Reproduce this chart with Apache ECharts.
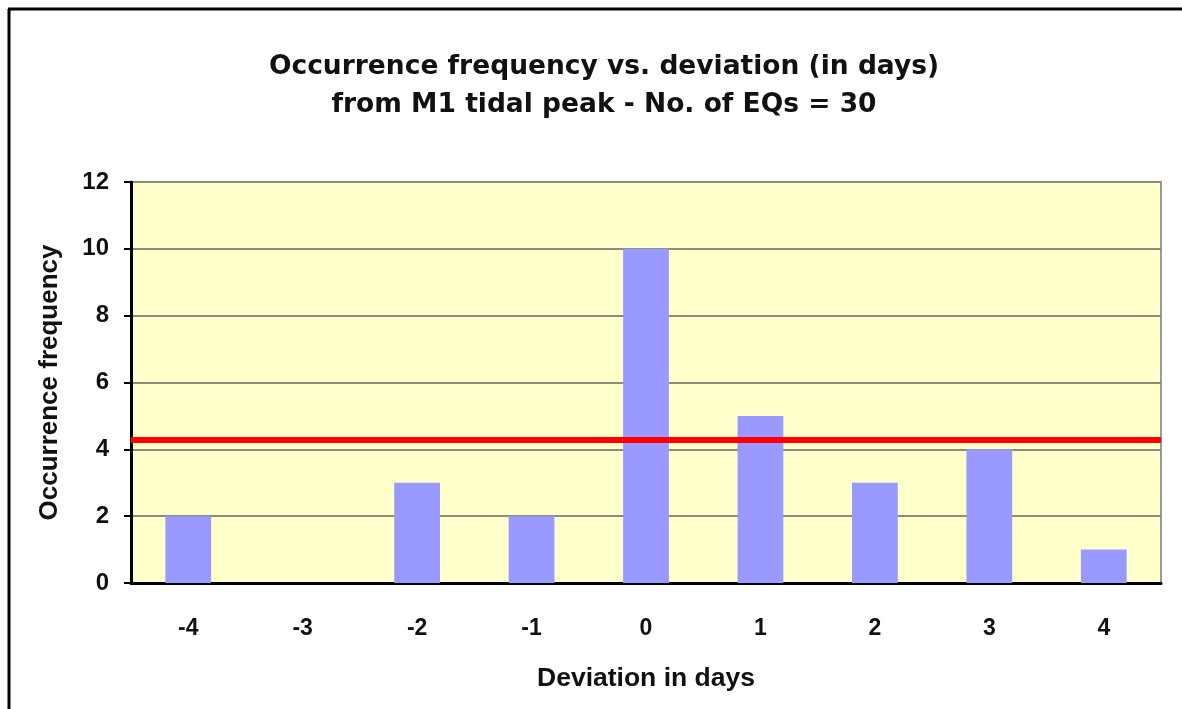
<!DOCTYPE html>
<html>
<head>
<meta charset="utf-8">
<script src="https://cdn.jsdelivr.net/npm/echarts@6/dist/echarts.min.js"></script>
<style>
  html, body { margin: 0; padding: 0; background: #fff; }
  #chart { width: 1182px; height: 709px; }
</style>
</head>
<body>
<div id="chart"></div>
<script>
const categories = ['-4', '-3', '-2', '-1', '0', '1', '2', '3', '4'];
const frequency = [2, 0, 3, 2, 10, 5, 3, 4, 1];
const meanLevel = [4.3];
const yTicks = { min: 0, max: 12, interval: 2 };

const chart = echarts.init(document.getElementById('chart'));
const font = 'Liberation Sans, Arial, sans-serif';
const wideFont = 'DejaVu Sans, Liberation Sans, sans-serif';

chart.setOption({
  backgroundColor: '#fff',
  animation: false,
  title: {
    text: 'Occurrence frequency vs. deviation (in days)\nfrom M1 tidal peak - No. of EQs = 30',
    left: 599,
    top: 43,
    textAlign: 'center',
    textStyle: {
      fontFamily: wideFont,
      fontSize: 26.5,
      fontWeight: 'bold',
      color: '#111',
      lineHeight: 38
    }
  },
  graphic: [
    { type: 'line', shape: { x1: 9, y1: 9, x2: 9, y2: 709 }, style: { stroke: '#000', lineWidth: 3 } },
    { type: 'line', shape: { x1: 8, y1: 9, x2: 1182, y2: 9 }, style: { stroke: '#000', lineWidth: 3 } }
  ],
  grid: {
    left: 131,
    right: 21,
    top: 182,
    bottom: 126,
    show: true,
    backgroundColor: '#FFFFCC',
    borderColor: '#999',
    borderWidth: 2
  },
  xAxis: {
    type: 'category',
    data: categories,
    name: 'Deviation in days',
    nameLocation: 'middle',
    nameGap: 82,
    nameTextStyle: { fontFamily: font, fontSize: 26.5, fontWeight: 'bold', color: '#111' },
    axisLine: { lineStyle: { color: '#000', width: 3 } },
    axisTick: { length: 7, lineStyle: { color: '#000', width: 2 } },
    axisLabel: { fontFamily: font, fontSize: 23, fontWeight: 'bold', color: '#111', margin: 34 },
    splitLine: { show: false }
  },
  yAxis: {
    type: 'value',
    min: yTicks.min,
    max: yTicks.max,
    interval: yTicks.interval,
    name: 'Occurrence frequency',
    nameLocation: 'middle',
    nameGap: 68,
    nameTextStyle: { fontFamily: font, fontSize: 26, fontWeight: 'bold', color: '#111' },
    axisLine: { show: true, lineStyle: { color: '#000', width: 3 } },
    axisTick: { show: true, length: 7, lineStyle: { color: '#000', width: 2 } },
    axisLabel: { fontFamily: font, fontSize: 24, fontWeight: 'bold', color: '#111', margin: 22 },
    splitLine: { lineStyle: { color: '#8c8c78', width: 2 } }
  },
  series: [{
    type: 'bar',
    data: frequency,
    barWidth: '40%',
    itemStyle: { color: '#9999FF' },
    markLine: {
      silent: true,
      symbol: 'none',
      label: { show: false },
      lineStyle: { color: '#FF0000', width: 6, type: 'solid' },
      data: meanLevel.map(v => ({ yAxis: v }))
    }
  }]
});
</script>
</body>
</html>
